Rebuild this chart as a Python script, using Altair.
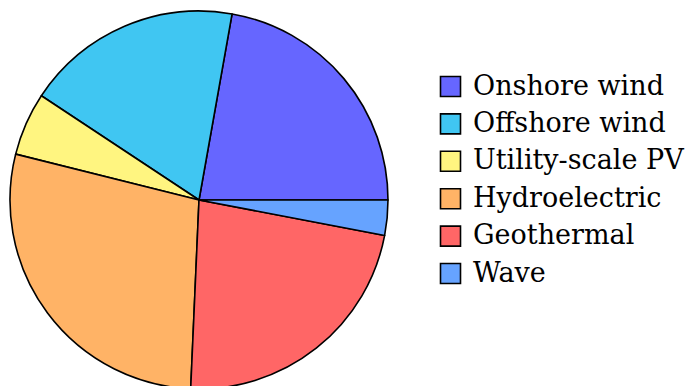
import math
import altair as alt
import pandas as pd

sources = ["Onshore wind", "Offshore wind", "Utility-scale PV", "Hydroelectric", "Geothermal", "Wave"]
shares = [22.2, 18.5, 5.4, 28.2, 22.7, 3.0]
colors = ["#6666ff", "#40c6f2", "#fff580", "#ffb366", "#ff6666", "#66a3ff"]
# drawing order: clockwise starting from 3 o'clock (Wave first)
draw_order = [5, 4, 3, 2, 1, 0]

df = pd.DataFrame({"source": sources, "share": shares, "ord": draw_order})

chart = alt.Chart(df).mark_arc(
    radius=189, stroke="black", strokeWidth=1.6, strokeJoin="round"
).encode(
    theta=alt.Theta("share:Q", stack=True,
                    scale=alt.Scale(range=[math.pi / 2, math.pi / 2 + 2 * math.pi])),
    order=alt.Order("ord:Q"),
    color=alt.Color(
        "source:N",
        scale=alt.Scale(domain=sources, range=colors),
        legend=alt.Legend(
            title=None,
            orient="none",
            legendX=437,
            legendY=73,
            padding=0,
            symbolType="square",
            symbolSize=400,
            symbolStrokeColor="black",
            symbolStrokeWidth=1.6,
            symbolOpacity=1,
            labelColor="black",
            labelOffset=9,
            labelLimit=400,
            rowPadding=9.4,
        ),
    ),
    x=alt.value(199),
    y=alt.value(200),
).properties(
    width=691, height=386, autosize="none", padding=0
).configure_view(stroke=None).configure_legend(
    labelFont="DejaVu Serif", labelFontSize=27
)

chart.save("out.html", embed_options={"renderer": "svg", "actions": False})
